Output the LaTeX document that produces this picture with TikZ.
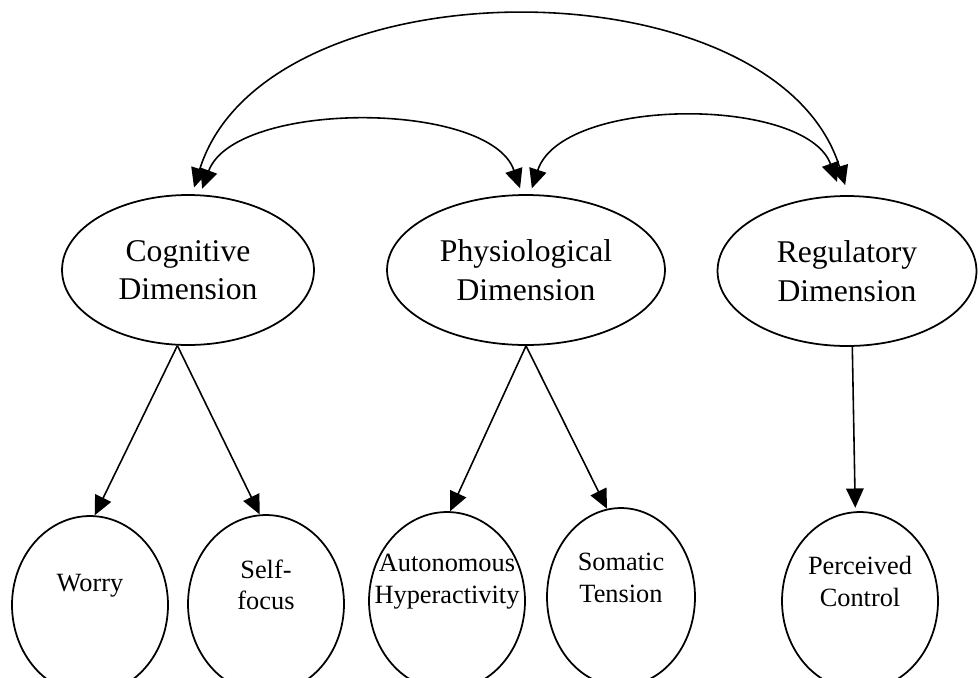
\documentclass[tikz,border=0pt]{standalone}
\usepackage{fontspec}
\setmainfont{Liberation Serif}
\usetikzlibrary{shapes.geometric,arrows.meta}
\begin{document}
\begin{tikzpicture}[x=0.02cm, y=-0.02cm, >={Triangle[length=11pt, width=10pt]},
		dim/.style={ellipse, draw, line width=1pt, inner sep=0pt, minimum height=3cm, align=center, font=\fontsize{18}{22}\selectfont},
		leaf/.style={ellipse, draw, line width=1pt, inner sep=0pt, minimum width=3.12cm, minimum height=3.56cm},
		leaftext/.style={align=center, font=\fontsize{15}{18}\selectfont, yshift=11pt},
		link/.style={line width=0.9pt, ->},
		both/.style={line width=0.9pt, <->}]
	\useasboundingbox (0,0) rectangle (979,677);
	\clip (0,0) rectangle (979,677);
	% dimensions
	\node[dim, minimum width=5.04cm] (cog) at (188,270) {Cognitive\\Dimension};
	\node[dim, minimum width=5.56cm] (phy) at (526,270) {Physiological\\Dimension};
	\node[dim, minimum width=5.18cm] (reg) at (847,271) {Regulatory\\Dimension};
	% facets
	\node[leaf, label={[leaftext]center:Worry}] (worry) at (90,605) {};
	\node[leaf, label={[leaftext]center:Self-\\focus}] (self) at (266,604) {};
	\node[leaf, label={[leaftext]center:Autonomous\\Hyperactivity}] (auton) at (447,601) {};
	\node[leaf, minimum width=2.96cm, label={[leaftext]center:Somatic\\Tension}] (somatic) at (621,597) {};
	\node[leaf, label={[leaftext]center:Perceived\\Control}] (perceived) at (860,601) {};
	% correlations
	\draw[both, shorten <=4pt, shorten >=6pt] (cog.87) .. controls (265,-40) and (775,-40) .. (reg.89);
	\draw[both, shorten <=3.5pt, shorten >=3.5pt] (cog.81) .. controls (235,100) and (490,100) .. (phy.93);
	\draw[both, shorten <=3.5pt, shorten >=8pt] (phy.87) .. controls (562,96) and (806,96) .. (reg.94);
	% loadings
	\draw[link] (cog.262) -- (worry.87);
	\draw[link] (cog.262) -- (self.94);
	\draw[link] (phy.south) -- (auton.88);
	\draw[link] (phy.south) -- (somatic.99);
	\draw[link, shorten >=2pt] (reg.274) -- (perceived.93);
\end{tikzpicture}
\end{document}
